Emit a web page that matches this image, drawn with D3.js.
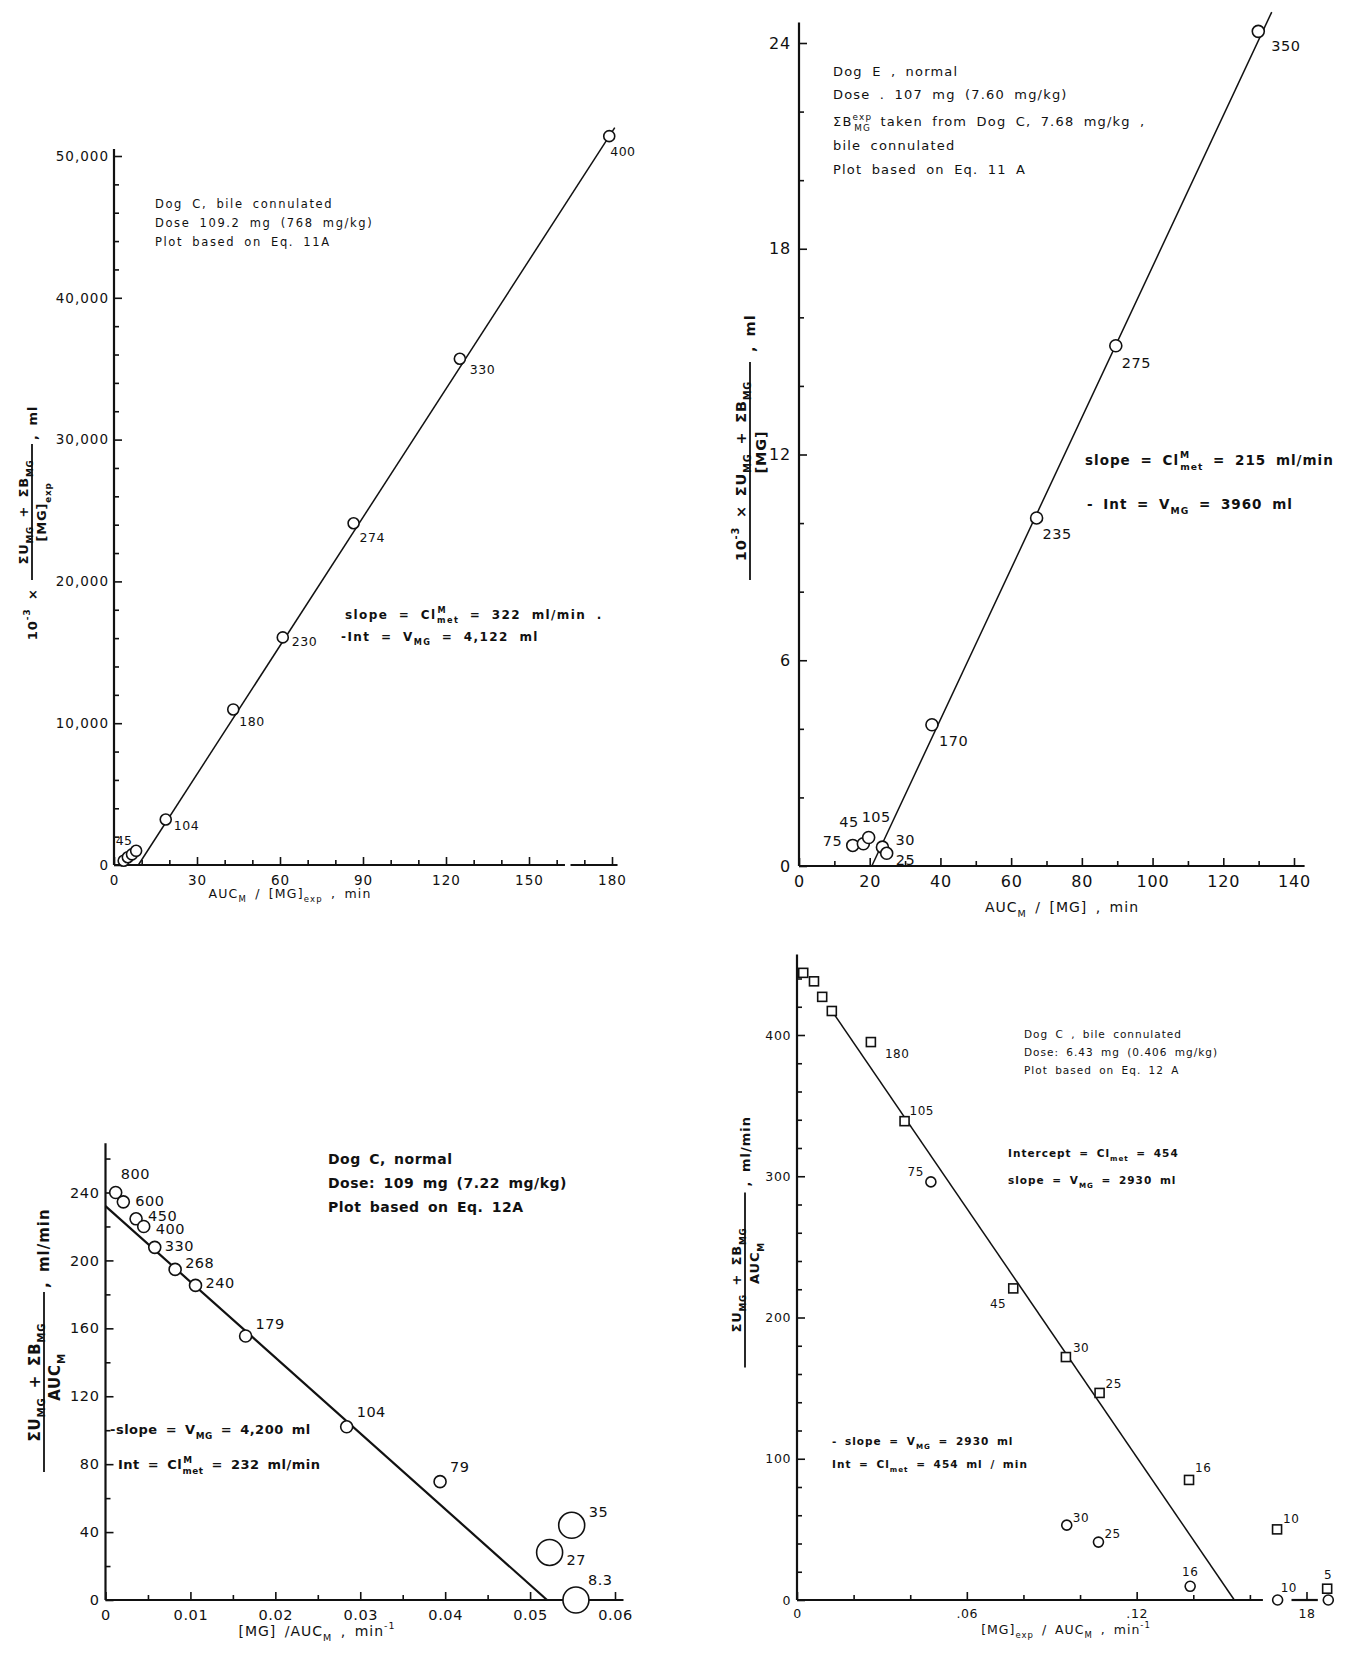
<!DOCTYPE html>
<html>
<head>
<meta charset="utf-8">
<script src="https://cdn.jsdelivr.net/npm/d3@7"></script>
<style>
  body { margin: 0; background: #fff; }
  text { font-family: "DejaVu Sans", sans-serif; fill: #111; }
</style>
</head>
<body>
<script>
// ---- values ----

// Panel A: Dog C, bile cannulated, Eq. 11A
const xA = [3.5, 5, 6.5, 8, 18.7, 43.1, 61, 86.6, 125, 179];
const yA = [300, 550, 750, 1000, 3210, 10970, 16050, 24100, 35700, 51400];
const labelsA = ["45", "", "", "", "104", "180", "230", "274", "330", "400"];
const fitA = [[8.8, 0], [181, 52000]];
const yTicksA = [0, 10000, 20000, 30000, 40000, 50000];
const yTickLabelsA = ["0", "10,000", "20,000", "30,000", "40,000", "50,000"];
const xTicksA = [0, 30, 60, 90, 120, 150, 180];

// Panel B: Dog E, normal, Eq. 11A
const xB = [15.2, 18.2, 19.7, 23.6, 24.8, 37.6, 67.2, 89.6, 129.9];
const yB = [0.6, 0.65, 0.83, 0.55, 0.37, 4.12, 10.15, 15.17, 24.34];
const labelsB = ["75", "45", "105", "30", "25", "170", "235", "275", "350"];
const fitB = [[20.6, 0], [133.7, 24.9]];
const yTicksB = [0, 6, 12, 18, 24];
const xTicksB = [0, 20, 40, 60, 80, 100, 120, 140];

// Panel C: Dog C, normal, Eq. 12A
const xC = [0.0012, 0.0021, 0.0036, 0.0045, 0.0058, 0.0082, 0.0106, 0.0165, 0.0284, 0.0394, 0.0549, 0.0523, 0.0554];
const yC = [240, 234.5, 224.5, 220, 207.7, 194.7, 185.3, 155.5, 102, 69.7, 44, 28, 0];
const labelsC = ["800", "600", "450", "400", "330", "268", "240", "179", "104", "79", "35", "27", "8.3"];
const fitC = [[0, 232], [0.052, 0]];
const yTicksC = [0, 40, 80, 120, 160, 200, 240];
const xTicksC = [0, 0.01, 0.02, 0.03, 0.04, 0.05, 0.06];
const xTickLabelsC = ["0", "0.01", "0.02", "0.03", "0.04", "0.05", "0.06"];

// Panel D: Dog C, bile cannulated, Eq. 12A (squares and circles)
const xDsq = [0.0022, 0.006, 0.0089, 0.0123, 0.0261, 0.038, 0.0764, 0.095, 0.1069, 0.1385, 0.1696, 0.1873];
const yDsq = [444, 438, 427, 417, 395, 339, 220.6, 172, 146.6, 85, 50, 8];
const labelsDsq = ["", "", "", "", "180", "105", "45", "30", "25", "16", "10", "5"];
const xDci = [0.0473, 0.0953, 0.1065, 0.1389, 0.1698, 0.1877];
const yDci = [296, 53, 41, 9.7, 0, 0];
const labelsDci = ["75", "30", "25", "16", "10", ""];
const fitD = [[0.012, 418], [0.1545, 0]];
const yTicksD = [0, 100, 200, 300, 400];
const xTicksD = [0, 0.06, 0.12, 0.18];
const xTickLabelsD = ["0", ".06", ".12", "18"];

const svg = d3.select("body").append("svg").attr("width", 1354).attr("height", 1655);

// Write text made of plain, subscript and superscript pieces into a <text>
function richText(textSel, parts, size) {
  let shift = 0;
  parts.forEach((p) => {
    const [t, mode, dx] = typeof p === "string" ? [p, null, 0] : p;
    const target = mode === "sub" ? size * 0.35 : mode === "sup" ? -size * 0.5 : 0;
    const ts = textSel.append("tspan").attr("dy", target - shift).text(t);
    if (mode) ts.attr("font-size", size * 0.68);
    if (dx) ts.attr("dx", dx);
    shift = target;
  });
  return textSel;
}

function addText(g, x, y, parts, size, opts = {}) {
  const t = g
    .append("text")
    .attr("x", x)
    .attr("y", y)
    .attr("font-size", size)
    .attr("text-anchor", opts.anchor || "start")
    .attr("font-weight", opts.weight || "normal")
    .style("letter-spacing", (opts.ls ?? 1) + "px")
    .style("word-spacing", (opts.ws ?? 3) + "px");
  return richText(t, parts, size);
}

// Rotated y label drawn as a fraction (numerator / line / denominator)
function fracLabel(o) {
  const f = svg.append("g").attr("transform", `translate(${o.x},${o.y}) rotate(-90)`);
  f.append("line")
    .attr("x1", -o.w / 2)
    .attr("x2", o.w / 2)
    .attr("stroke", "#111")
    .attr("stroke-width", 1.8);
  addText(f, o.numX || 0, -4, o.num, o.size, { anchor: "middle", weight: "bold", ls: 0.8 });
  addText(f, o.denX || 0, o.size + 1, o.den, o.size, { anchor: "middle", weight: "bold", ls: 0.8 });
  if (o.prefix) addText(f, -o.w / 2 - 8, o.size * 0.35, o.prefix, o.size, { anchor: "end", weight: "bold" });
  if (o.suffix) addText(f, o.w / 2 + (o.sufGap || 4), o.size * 0.35, o.suffix, o.size, { anchor: "start", weight: "bold" });
}

// Axes with inward ticks, minor ticks and hand drawn axis lines
function drawAxes(p, x, y) {
  const g = svg.append("g");
  const style = (sel, fs, ls) => {
    sel.select(".domain").remove();
    sel.selectAll(".tick line").attr("stroke", "#111").attr("stroke-width", 1.6);
    sel.selectAll(".tick text")
      .attr("font-size", fs)
      .attr("fill", "#111")
      .style("letter-spacing", ls + "px")
      .style("font-family", '"DejaVu Sans", sans-serif');
  };

  const xAxis = d3.axisBottom(x)
    .tickValues(p.xTicks)
    .tickFormat((d, i) => p.xLabels[i])
    .tickSize(-8)
    .tickSizeOuter(0)
    .tickPadding(p.xPad);
  g.append("g").attr("transform", `translate(0,${y(0)})`).call(xAxis).call(style, p.fs, p.ls);
  g.append("g")
    .attr("transform", `translate(0,${y(0)})`)
    .call(d3.axisBottom(x).tickValues(p.xMinor).tickFormat("").tickSize(-5).tickSizeOuter(0))
    .call(style, p.fs, p.ls);

  const yAxis = d3.axisLeft(y)
    .tickValues(p.yTicks)
    .tickFormat((d, i) => p.yLabels[i])
    .tickSize(-8)
    .tickSizeOuter(0)
    .tickPadding(p.yPad);
  g.append("g").attr("transform", `translate(${x(0)},0)`).call(yAxis).call(style, p.fs, p.ls);
  g.append("g")
    .attr("transform", `translate(${x(0)},0)`)
    .call(d3.axisLeft(y).tickValues(p.yMinor).tickFormat("").tickSize(-5).tickSizeOuter(0))
    .call(style, p.fs, p.ls);

  // axis lines (x axis may be broken in the original)
  p.xSegs.forEach(([a, b]) => {
    g.append("line")
      .attr("x1", x(a)).attr("x2", x(b))
      .attr("y1", y(0)).attr("y2", y(0))
      .attr("stroke", "#111").attr("stroke-width", 2.2);
  });
  g.append("line")
    .attr("x1", x(0)).attr("x2", x(0))
    .attr("y1", y(0)).attr("y2", y(p.yTop))
    .attr("stroke", "#111").attr("stroke-width", 2.2);
}

// Fit line, symbols and their time labels
function drawMarks(x, y, fit, xs, ys, labels, o) {
  if (fit) {
    svg.append("line")
      .attr("x1", x(fit[0][0])).attr("y1", y(fit[0][1]))
      .attr("x2", x(fit[1][0])).attr("y2", y(fit[1][1]))
      .attr("stroke", "#111")
      .attr("stroke-width", o.fitWidth || 1.5);
  }

  const pts = xs.map((v, i) => ({ x: v, y: ys[i], label: labels[i], i }));
  const g = svg.append("g");
  if (o.shape === "square") {
    g.selectAll("rect").data(pts).join("rect")
      .attr("x", (d) => x(d.x) - o.r)
      .attr("y", (d) => y(d.y) - o.r)
      .attr("width", o.r * 2)
      .attr("height", o.r * 2)
      .attr("fill", "#fff").attr("stroke", "#111").attr("stroke-width", 1.6);
  } else {
    g.selectAll("circle").data(pts).join("circle")
      .attr("cx", (d) => x(d.x))
      .attr("cy", (d) => y(d.y))
      .attr("r", (d) => (o.bigR && o.bigR[d.label]) || o.r)
      .attr("fill", "#fff").attr("stroke", "#111").attr("stroke-width", 1.6);
  }
  pts.filter((d) => d.label).forEach((d) => {
    const off = o.offsets[d.i];
    addText(g, x(d.x) + off[0], y(d.y) + off[1], [d.label], o.fs, { anchor: off[2] || "start", ls: 0.5 });
  });
}

// ---------- Panel A (top left) ----------
{
  const x = d3.scaleLinear().domain([0, 180]).range([114, 612]);
  const y = d3.scaleLinear().domain([0, 50000]).range([865, 156]);
  drawAxes({
    xTicks: xTicksA, xLabels: xTicksA.map(String), xMinor: d3.range(10, 181, 10).filter((v) => v % 30),
    yTicks: yTicksA, yLabels: yTickLabelsA, yMinor: d3.range(2000, 50000, 2000).filter((v) => v % 10000),
    xSegs: [[0, 163], [165, 182]], yTop: 50500, fs: 13.5, ls: 1, xPad: 10, yPad: 5,
  }, x, y);
  drawMarks(x, y, fitA, xA, yA, labelsA, {
    r: 5.5, fs: 12.5,
    offsets: [[-8, -16], [], [], [], [8, 11], [6, 17], [9, 9], [6, 19], [10, 15], [1, 20]],
  });
  const ann = [
    ["Dog C, bile connulated"],
    ["Dose  109.2 mg (768 mg/kg)"],
    ["Plot  based  on  Eq.  11A"],
  ];
  ann.forEach((t, i) => addText(svg, 155, 208 + i * 19, t, 11.5, { ls: 1.6, ws: 4 }));
  addText(svg, 345, 619, ["slope  = Cl", ["M", "sup", 1], ["met", "sub", -10], "  = 322 ml/min ."], 12, { ls: 1.4, ws: 5, weight: "bold" });
  addText(svg, 341, 641, ["-Int  = V", ["MG", "sub"], " = 4,122 ml"], 12, { ls: 1.4, ws: 5, weight: "bold" });
  addText(svg, 290, 898, ["AUC", ["M", "sub"], " / [MG]", ["exp", "sub"], " ,  min"], 12.5, { anchor: "middle", ls: 1.2 });
  fracLabel({
    x: 32, y: 512, w: 136, size: 13,
    num: ["ΣU", ["MG", "sub"], " + ΣB", ["MG", "sub"]],
    den: ["[MG]", ["exp", "sub"]],
    prefix: ["10", ["-3", "sup"], " ×"],
    suffix: [",  ml"],
  });
}

// ---------- Panel B (top right) ----------
{
  const x = d3.scaleLinear().domain([0, 140]).range([799, 1294]);
  const y = d3.scaleLinear().domain([0, 24]).range([866, 43]);
  drawAxes({
    xTicks: xTicksB, xLabels: xTicksB.map(String), xMinor: d3.range(10, 141, 20),
    yTicks: yTicksB, yLabels: yTicksB.map(String), yMinor: d3.range(2, 25, 2).filter((v) => v % 6),
    xSegs: [[0, 143]], yTop: 24.6, fs: 16, ls: 0.8, xPad: 10, yPad: 8,
  }, x, y);
  drawMarks(x, y, fitB, xB, yB, labelsB, {
    r: 6, fs: 14.5,
    offsets: [[-30, 1], [-24, -17], [-7, -16], [13, -2], [9, 12], [7, 21], [6, 21], [6, 22], [13, 20]],
  });
  const ann = [
    ["Dog  E , normal"],
    ["Dose . 107 mg (7.60 mg/kg)"],
    ["ΣB", ["exp", "sup"], ["MG", "sub", -18], "  taken  from  Dog  C,  7.68 mg/kg ,"],
    ["bile  connulated"],
    ["Plot  based  on  Eq.  11 A"],
  ];
  [76, 99, 126, 150, 174].forEach((yy, i) => addText(svg, 833, yy, ann[i], 13, { ls: 1.2, ws: 4 }));
  addText(svg, 1085, 465, ["slope  =  Cl", ["M", "sup", 1], ["met", "sub", -10], "   = 215 ml/min"], 13.5, { ls: 1, ws: 4, weight: "bold" });
  addText(svg, 1087, 509, ["- Int   =   V", ["MG", "sub"], "  = 3960 ml"], 13.5, { ls: 1, ws: 4, weight: "bold" });
  addText(svg, 1062, 912, ["AUC", ["M", "sub"], " / [MG] ,  min"], 14, { anchor: "middle", ls: 1 });
  fracLabel({
    x: 750, y: 471, w: 218, size: 14.5,
    num: ["10", ["-3", "sup"], " ×    ΣU", ["MG", "sub"], "   +   ΣB", ["MG", "sub"]],
    den: ["[MG]"], denX: 19,
    suffix: [",  ml"], sufGap: 10,
  });
}

// ---------- Panel C (bottom left) ----------
{
  const x = d3.scaleLinear().domain([0, 0.06]).range([105.5, 615]);
  const y = d3.scaleLinear().domain([0, 240]).range([1600, 1192.5]);
  drawAxes({
    xTicks: xTicksC, xLabels: xTickLabelsC, xMinor: d3.range(0.005, 0.061, 0.01),
    yTicks: yTicksC, yLabels: yTicksC.map(String), yMinor: d3.range(20, 270, 40),
    xSegs: [[0, 0.061]], yTop: 269, fs: 14.5, ls: 0.6, xPad: 10, yPad: 6,
  }, x, y);
  drawMarks(x, y, fitC, xC, yC, labelsC, {
    r: 6, fs: 14.5, fitWidth: 2.2, bigR: { "35": 13, "27": 13, "8.3": 13 },
    offsets: [[5, -14], [12, 4], [12, 2], [12, 8], [10, 4], [10, -1], [10, 3], [10, -7], [10, -10], [10, -10], [17, -8], [17, 13], [12, -15]],
  });
  const ann = [
    ["Dog  C,  normal"],
    ["Dose:  109 mg  (7.22 mg/kg)"],
    ["Plot   based   on   Eq.  12A"],
  ];
  ann.forEach((t, i) => addText(svg, 328, 1164 + i * 24, t, 14, { ls: 0.5, ws: 3, weight: "bold" }));
  addText(svg, 110, 1434, ["-slope  =  V", ["MG", "sub"], " = 4,200 ml"], 13, { ls: 0.5, ws: 3, weight: "bold" });
  addText(svg, 118, 1469, ["Int  =  Cl", ["M", "sup", 1], ["met", "sub", -10], "  =  232 ml/min"], 13, { ls: 0.5, ws: 3, weight: "bold" });
  addText(svg, 317, 1636, ["[MG]  /AUC", ["M", "sub"], " ,  min", ["-1", "sup"]], 14, { anchor: "middle", ls: 1 });
  fracLabel({
    x: 44, y: 1382, w: 180, size: 15,
    num: ["ΣU", ["MG", "sub"], " + ΣB", ["MG", "sub"]],
    den: ["AUC", ["M", "sub"]], denX: 5,
    suffix: [", ml/min"],
  });
}

// ---------- Panel D (bottom right) ----------
{
  const x = d3.scaleLinear().domain([0, 0.18]).range([797, 1306.5]);
  const y = d3.scaleLinear().domain([0, 400]).range([1600, 1035]);
  drawAxes({
    xTicks: xTicksD, xLabels: xTickLabelsD, xMinor: [0.02, 0.04, 0.08, 0.1, 0.14, 0.16],
    yTicks: yTicksD, yLabels: yTicksD.map(String), yMinor: d3.range(20, 457, 20).filter((v) => v % 100),
    xSegs: [[0, 0.1646], [0.1747, 0.184]], yTop: 457, fs: 12.5, ls: 0.6, xPad: 9, yPad: 6,
  }, x, y);
  drawMarks(x, y, fitD, xDsq, yDsq, labelsDsq, {
    shape: "square", r: 4.5, fs: 12,
    offsets: [[], [], [], [], [14, 16], [5, -6], [-7, 20, "end"], [7, -5], [6, -5], [6, -8], [6, -6], [1, -10, "middle"]],
  });
  drawMarks(x, y, null, xDci, yDci, labelsDci, {
    r: 5, fs: 12,
    offsets: [[-7, -6, "end"], [6, -3], [6, -4], [0, -10, "middle"], [3, -8], []],
  });
  const ann = [
    ["Dog  C ,  bile   connulated"],
    ["Dose:  6.43 mg  (0.406 mg/kg)"],
    ["Plot  based   on   Eq.  12 A"],
  ];
  ann.forEach((t, i) => addText(svg, 1024, 1038 + i * 18, t, 10.5, { ls: 1, ws: 3 }));
  addText(svg, 1008, 1157, ["Intercept  =  Cl", ["met", "sub"], "    =  454"], 10.5, { ls: 1, ws: 3, weight: "bold" });
  addText(svg, 1008, 1184, ["slope   =  V", ["MG", "sub"], "   =   2930 ml"], 10.5, { ls: 1, ws: 3, weight: "bold" });
  addText(svg, 832, 1445, ["- slope  =  V", ["MG", "sub"], "  =  2930  ml"], 10.5, { ls: 1, ws: 3, weight: "bold" });
  addText(svg, 832, 1468, ["Int   =  Cl", ["met", "sub"], "  =  454 ml / min"], 10.5, { ls: 1, ws: 3, weight: "bold" });
  addText(svg, 1066, 1634, ["[MG]", ["exp", "sub"], "  /  AUC", ["M", "sub"], " ,  min", ["-1", "sup"]], 12.5, { anchor: "middle", ls: 1 });
  fracLabel({
    x: 745, y: 1280, w: 175, size: 13,
    num: ["ΣU", ["MG", "sub"], "     +   ΣB", ["MG", "sub"]],
    den: ["AUC", ["M", "sub"]], denX: 17,
    suffix: [",  ml/min"], sufGap: 6,
  });
}
</script>
</body>
</html>
